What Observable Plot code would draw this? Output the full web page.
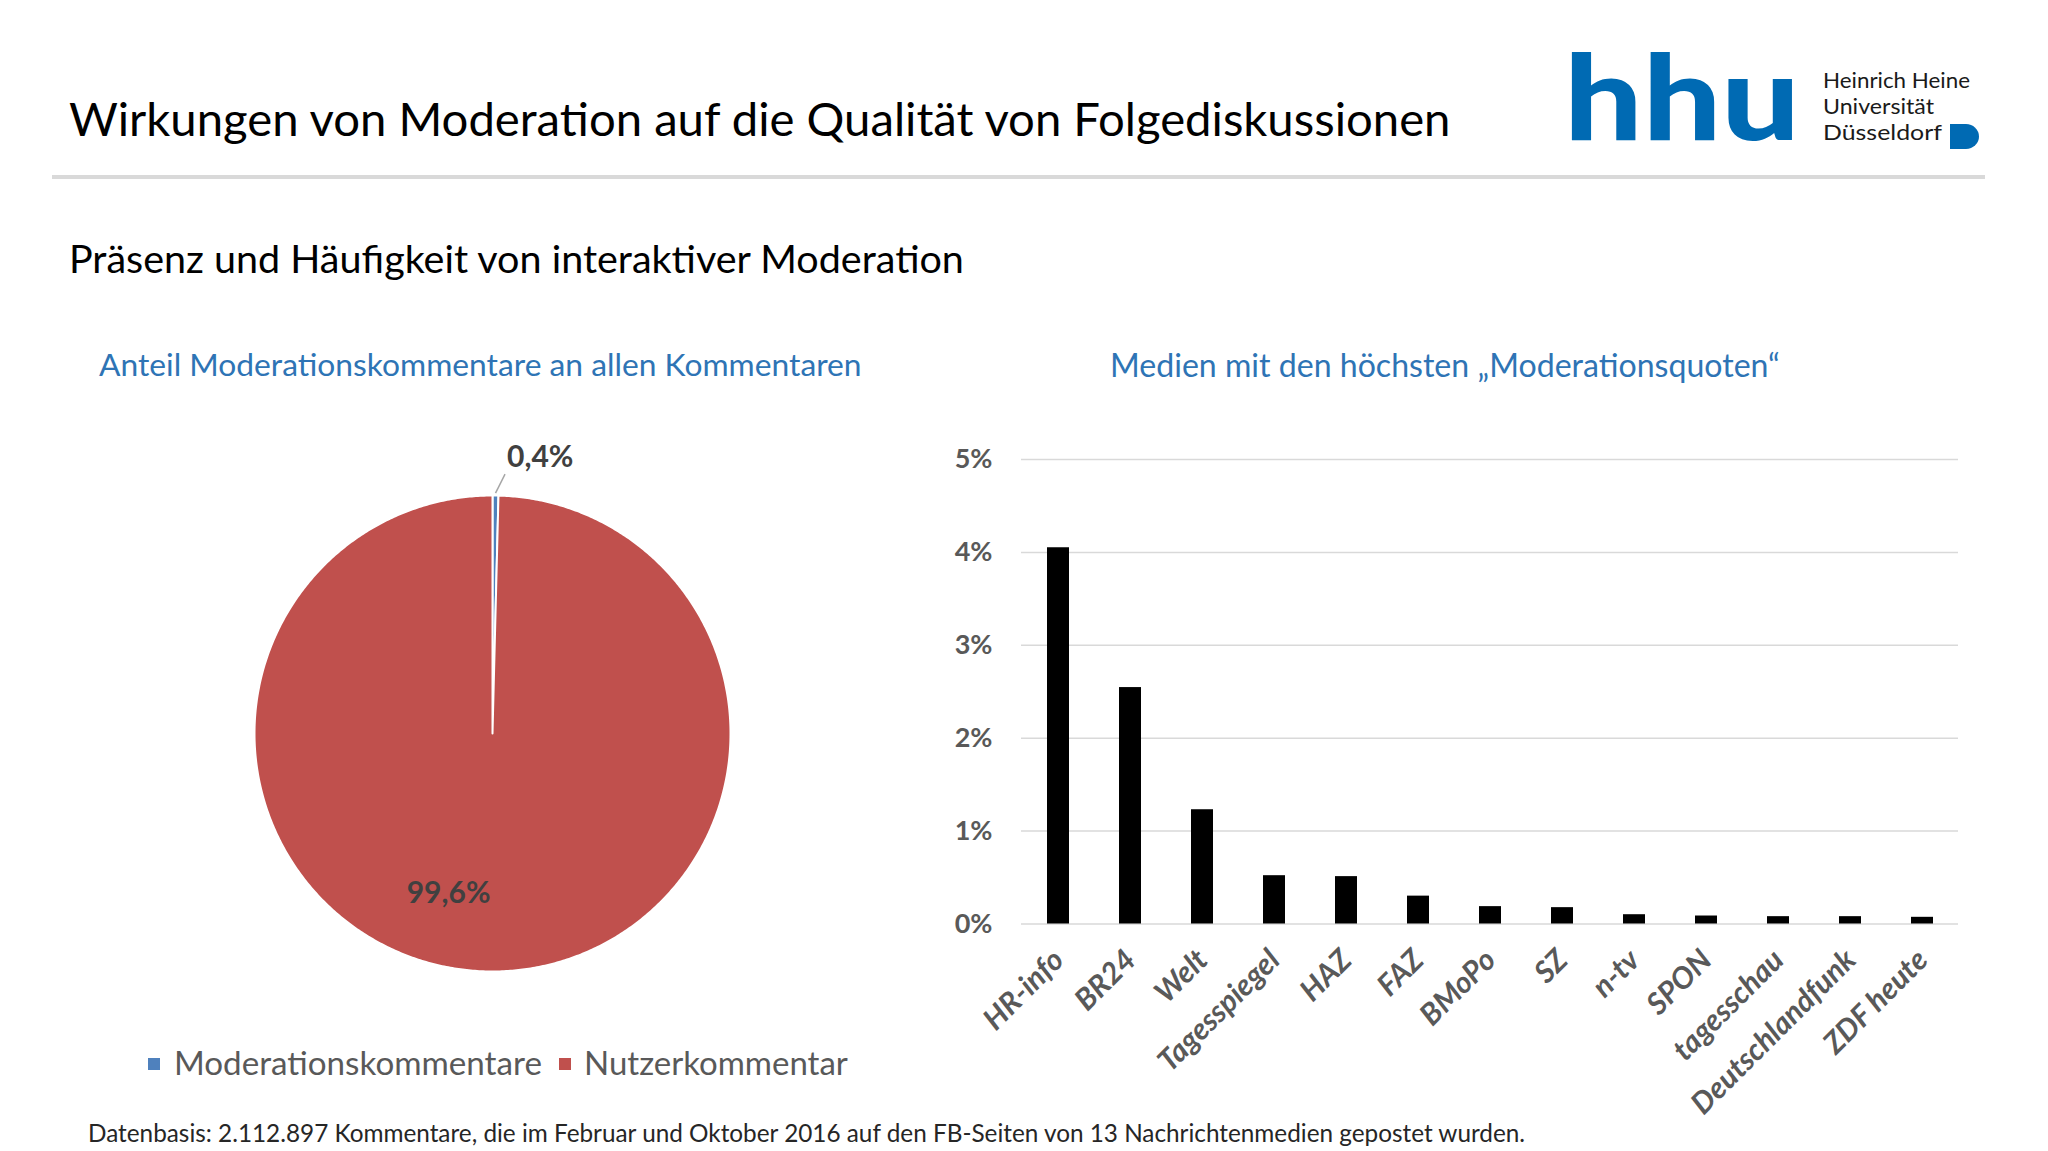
<!DOCTYPE html>
<html><head><meta charset="utf-8">
<script src="https://cdn.jsdelivr.net/npm/d3@7"></script>
<script src="https://cdn.jsdelivr.net/npm/@observablehq/plot@0.6"></script>
<style>
html,body{margin:0;padding:0;background:#fff;}
body{width:2048px;height:1151px;position:relative;overflow:hidden;font-family:Lato,"Open Sans",sans-serif;}
.abs{position:absolute;white-space:nowrap;line-height:1;}
#rule{position:absolute;left:52px;top:175px;width:1933px;height:4px;background:#d9d9d9;}
</style></head><body>
<div id="title" class="abs" style="color:#000">Wirkungen von Moderation auf die Qualität von Folgediskussionen</div>
<div id="rule"></div>
<div id="subtitle" class="abs" style="color:#000">Präsenz und Häufigkeit von interaktiver Moderation</div>
<div id="leftTitle" class="abs" style="color:#2e74b5"></div>
<div id="rightTitle" class="abs" style="color:#2e74b5"></div>
<div id="pie" style="position:absolute;left:174px;top:415px;"></div>
<div id="bars" style="position:absolute;left:951px;top:439px;"></div>
<div id="leg1sw" class="abs"></div><div id="leg1" class="abs" style="color:#595959"></div>
<div id="leg2sw" class="abs"></div><div id="leg2" class="abs" style="color:#595959"></div>
<div id="footer" class="abs" style="color:#262626"></div>
<svg id="logo" style="position:absolute;left:1560px;top:0px;" width="480" height="170">
  <text x="4" y="140" font-family="Lato" font-weight="900" font-size="118" fill="#006ab3" textLength="236" lengthAdjust="spacingAndGlyphs">hhu</text>
  <text x="263" y="88" font-family="Lato" font-size="22" fill="#1a1a1a" textLength="147" lengthAdjust="spacingAndGlyphs">Heinrich Heine</text>
  <text x="263" y="114" font-family="Lato" font-size="22" fill="#1a1a1a" textLength="111" lengthAdjust="spacingAndGlyphs">Universität</text>
  <text x="263" y="140" font-family="Lato" font-size="22" fill="#1a1a1a" textLength="119" lengthAdjust="spacingAndGlyphs">Düsseldorf</text>
  <path d="M390,124 H406 A13,12.5 0 0 1 406,149 H390 Z" fill="#006ab3"/>
</svg>
<script>
// ---- data ----
const pieLabels = ["Moderationskommentare", "Nutzerkommentar"];
const pieValues = [0.4, 99.6];
const pieColors = ["#4f81bd", "#c0504d"];
const pieValueText = ["0,4%", "99,6%"];

const media = ["HR-info","BR24","Welt","Tagesspiegel","HAZ","FAZ","BMoPo","SZ","n-tv","SPON","tagesschau","Deutschlandfunk","ZDF heute"];
const quota = [4.05, 2.545, 1.23, 0.52, 0.51, 0.30, 0.187, 0.176, 0.10, 0.086, 0.079, 0.079, 0.072];
const yTicks = [0, 1, 2, 3, 4, 5];

const leftTitleText = "Anteil Moderationskommentare an allen Kommentaren";
const rightTitleText = "Medien mit den höchsten \u201EModerationsquoten\u201C";
const footerText = "Datenbasis: 2.112.897 Kommentare, die im Februar und Oktober 2016 auf den FB-Seiten von 13 Nachrichtenmedien gepostet wurden.";

// ---- pie (through Plot scales) ----
const R = 238, pad = 80, k = 1 + pad / R;
const pieData = pieLabels.map((name, i) => ({name, value: pieValues[i], label: pieValueText[i]}));
const arcs = d3.pie().sort(null).value(d => d.value)(pieData);
const polar = (a, r) => ({x: r * Math.sin(a), y: r * Math.cos(a)});
const slicePts = [];
for (const a of arcs) {
  const n = Math.max(2, Math.ceil((a.endAngle - a.startAngle) / (2 * Math.PI) * 720));
  slicePts.push({name: a.data.name, x: 0, y: 0});
  for (let i = 0; i <= n; i++) {
    const t = a.startAngle + (a.endAngle - a.startAngle) * i / n;
    slicePts.push({name: a.data.name, ...polar(t, 1)});
  }
  slicePts.push({name: a.data.name, x: 0, y: 0});
}
const small = arcs[0], big = arcs[1];
const smallMid = (small.startAngle + small.endAngle) / 2;
const bigMid = (big.startAngle + big.endAngle) / 2;
const leadStart = polar(smallMid, 1.01);
const leadEnd = {x: leadStart.x + 0.04, y: leadStart.y + 0.08};
const leader = [{x1: leadStart.x, y1: leadStart.y, x2: leadEnd.x, y2: leadEnd.y}];
const smallLabel = [{...leadEnd, text: small.data.label}];
const bigLabel = [{...polar(bigMid, 0.67), text: big.data.label}];

const piePlot = Plot.plot({
  width: 2 * (R + pad), height: 2 * (R + pad),
  margin: 0,
  x: {domain: [-k, k], axis: null},
  y: {domain: [-k, k], axis: null},
  color: {domain: pieLabels, range: pieColors},
  style: {fontFamily: "Lato", background: "transparent"},
  marks: [
    Plot.line(slicePts, {x: "x", y: "y", z: "name", fill: "name", stroke: "white", strokeWidth: 2, strokeLinejoin: "round"}),
    Plot.link(leader, {x1: "x1", y1: "y1", x2: "x2", y2: "y2", stroke: "#a6a6a6", strokeWidth: 1.5}),
    Plot.text(smallLabel, {x: "x", y: "y", text: "text", dx: 2, dy: -17, textAnchor: "start", fontSize: 30, fontWeight: "bold", fill: "#404040"}),
    Plot.text(bigLabel, {x: "x", y: "y", text: "text", textAnchor: "end", fontSize: 30, fontWeight: "bold", fill: "#404040"})
  ]
});
document.getElementById("pie").appendChild(piePlot);

// ---- bars ----
const barData = media.map((m, i) => ({media: m, value: quota[i]}));
const barPlot = Plot.plot({
  width: 1027, height: 691,
  marginLeft: 70, marginRight: 20, marginTop: 20, marginBottom: 206.5,
  x: {domain: media, paddingInner: 0.695, paddingOuter: 0.3475, axis: null},
  y: {domain: [0, 5], ticks: yTicks, tickSize: 0, tickPadding: 29, tickFormat: d => d + "%", label: null},
  style: {fontFamily: "Lato", fontSize: "27px", fontWeight: "bold", color: "#595959", background: "transparent"},
  marks: [
    Plot.ruleY(yTicks, {stroke: "#d9d9d9", strokeWidth: 1.5}),
    Plot.barY(barData, {x: "media", y: "value", fill: "#000"}),
    Plot.text(barData, {x: "media", frameAnchor: "bottom", text: "media", rotate: -45, textAnchor: "end",
      dx: 7, dy: 38, fontSize: 30, fontWeight: "bold", fontStyle: "italic", fill: "#595959"})
  ]
});
document.getElementById("bars").appendChild(barPlot);

// ---- legend ----
document.getElementById("leg1").textContent = pieLabels[0];
document.getElementById("leg2").textContent = pieLabels[1];
const sw1 = document.getElementById("leg1sw"), sw2 = document.getElementById("leg2sw");
[[sw1, 0, 148], [sw2, 1, 559]].forEach(([el, i, x]) => {
  el.style.left = x + "px"; el.style.top = (1063.5 - 6) + "px";
  el.style.width = "12px"; el.style.height = "12px"; el.style.background = pieColors[i];
});
document.getElementById("leftTitle").textContent = leftTitleText;
document.getElementById("rightTitle").textContent = rightTitleText;
document.getElementById("footer").textContent = footerText;

// ---- fit texts ----
function place(id, x0, x1, capCenter) {
  const el = document.getElementById(id);
  el.style.left = x0 + "px"; el.style.fontSize = "40px"; el.style.top = "0px";
  const w = el.getBoundingClientRect().width;
  const fs = 40 * (x1 - x0) / w;
  el.style.fontSize = fs + "px";
  el.style.top = (capCenter - 0.527 * fs) + "px";
}
function layout() {
  place("title", 69, 1451, 119);
  place("subtitle", 69, 964, 259);
  place("leftTitle", 99, 862, 365.5);
  place("rightTitle", 1110, 1780, 365.5);
  place("leg1", 174, 542, 1063.5);
  place("leg2", 584, 848, 1063.5);
  place("footer", 88, 1526, 1134);
}
layout();
if (document.fonts && document.fonts.ready) document.fonts.ready.then(layout);
</script>
</body></html>
